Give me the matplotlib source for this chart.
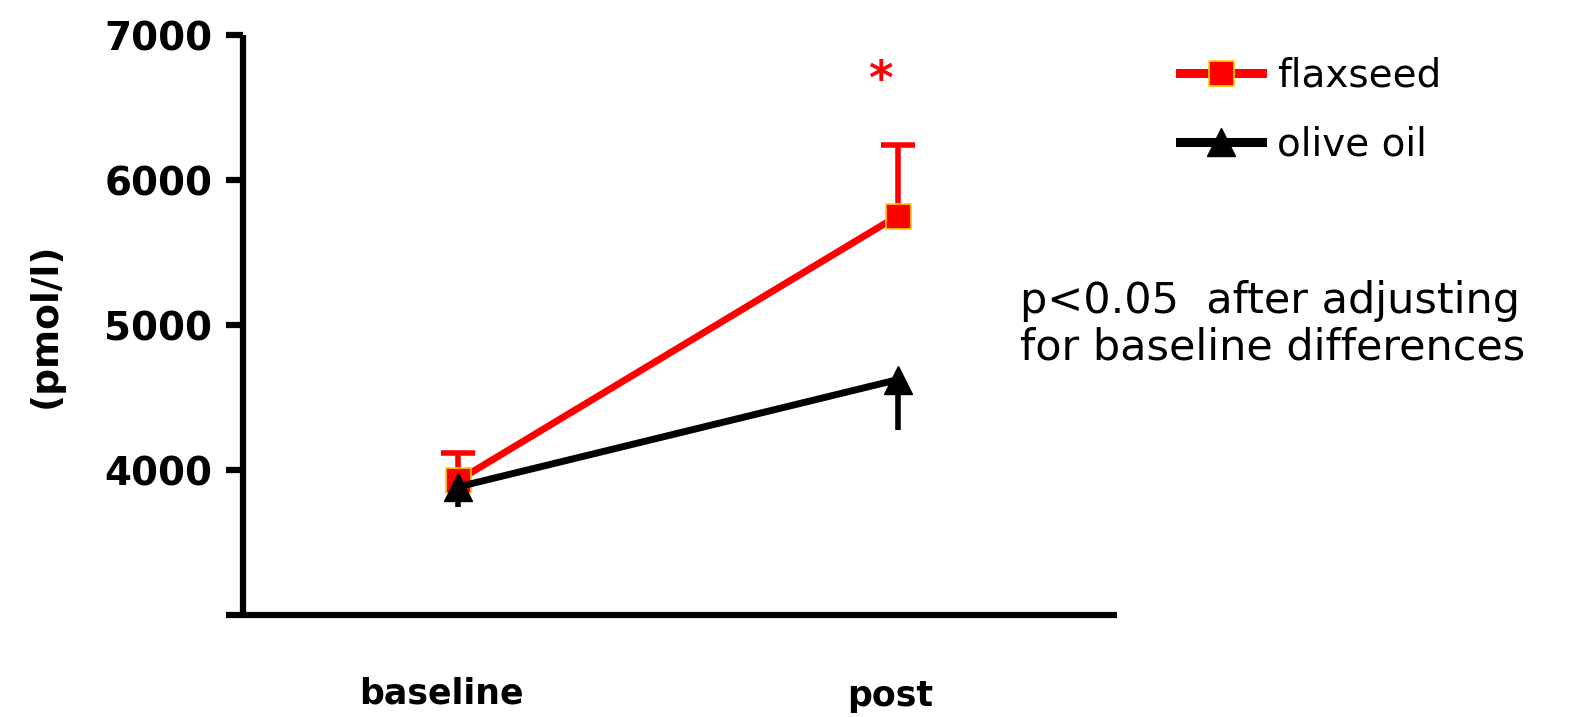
import matplotlib
matplotlib.use("Agg")
import matplotlib.pyplot as plt

categories = ["baseline", "post"]
flax_mean = [3930, 5755]
flax_err_up = [190, 490]
olive_mean = [3885, 4625]
olive_err_down = [140, 350]
yticks = [3000, 4000, 5000, 6000, 7000]
ytick_labels = ["", "4000", "5000", "6000", "7000"]

plt.rcParams['font.family'] = ['DejaVu Sans']

fig = plt.figure(figsize=(15.77, 7.17), dpi=100)
ax = fig.add_axes([0.154, 0.142, 0.554, 0.809])

x = list(range(len(categories)))

eb = ax.errorbar(x, flax_mean, yerr=[[0, 0], flax_err_up], fmt='none', ecolor='#ff0000',
                 elinewidth=4, capsize=12, capthick=4, zorder=2)
for cl in eb[1]:
    if list(cl.get_ydata()) == list(flax_mean):
        cl.set_visible(False)
ax.plot(x, flax_mean, color='#ff0000', lw=5, marker='s', markersize=18,
        markerfacecolor='#ff0000', markeredgecolor='#ffd000', markeredgewidth=1.2,
        label='flaxseed', zorder=3)
ax.errorbar(x, olive_mean, yerr=[olive_err_down, [0, 0]], fmt='none', ecolor='black',
            elinewidth=4, capsize=0, zorder=4)
ax.plot(x, olive_mean, color='black', lw=5, marker='^', markersize=20,
        label='olive oil', zorder=5)

ax.text(0.96, 6680, '*', color='#ff0000', fontsize=34, fontweight='bold',
        ha='center', va='center')

ax.set_xlim(-0.49, 1.497)
ax.set_ylim(3000, 7000)
ax.set_yticks(yticks)
ax.set_yticklabels(ytick_labels, fontsize=28, fontweight='bold')
ax.set_xticks(x)
ax.set_xticklabels([])
ax.tick_params(axis='x', length=0)
ax.tick_params(axis='y', length=12, width=4.5, pad=10)
for i, (cat, dx, dy) in enumerate(zip(categories, [-12, -6], [-44, -46])):
    ax.annotate(cat, xy=(i, 0), xycoords=('data', 'axes fraction'),
                xytext=(dx, dy), textcoords='offset points',
                ha='center', va='top', fontsize=25, fontweight='bold',
                annotation_clip=False)

for s in ['top', 'right']:
    ax.spines[s].set_visible(False)
for s in ['left', 'bottom']:
    ax.spines[s].set_linewidth(4.5)
    ax.spines[s].set_capstyle('butt')

ax.set_ylabel('(pmol/l)', fontsize=27, fontweight='bold')
ax.yaxis.set_label_coords(-0.205, 0.5)

leg = fig.legend(loc='upper left', bbox_to_anchor=(0.726, 0.97), frameon=False,
                 fontsize=28, handlelength=2.1, handletextpad=0.4, labelspacing=0.8)
for h in leg.get_lines():
    h.set_linewidth(6.5)

fig.text(0.647, 0.548, 'p<0.05  after adjusting\nfor baseline differences',
         fontsize=31, ha='left', va='center', linespacing=1.15)

fig.savefig('out.png', dpi=100)
